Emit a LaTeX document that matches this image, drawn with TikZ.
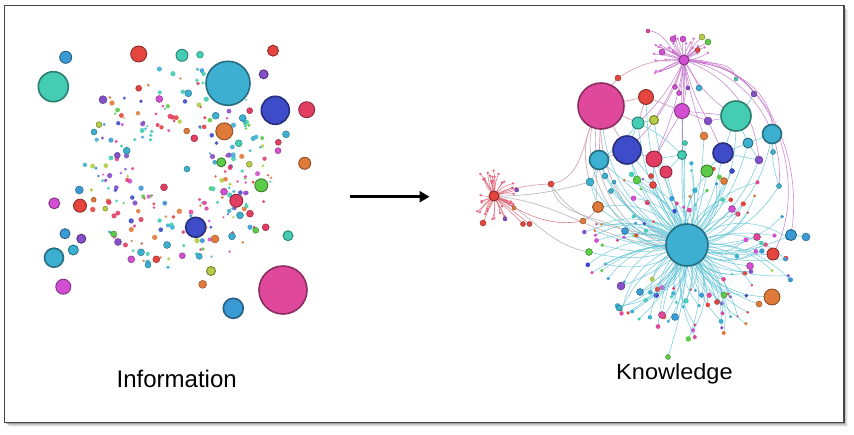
\documentclass[tikz,border=0pt]{standalone}
\usepackage{fontspec}
\setmainfont{Liberation Sans}
\usetikzlibrary{arrows.meta}
\definecolor{aqua}{HTML}{45CDB3}
\definecolor{cyanb}{HTML}{3DB0D2}
\definecolor{sky}{HTML}{3A9AD4}
\definecolor{dblue}{HTML}{3F4CC9}
\definecolor{pnk}{HTML}{E0489B}
\definecolor{cred}{HTML}{E4453F}
\definecolor{crim}{HTML}{E23D62}
\definecolor{orng}{HTML}{E07A3A}
\definecolor{grn}{HTML}{5CCB48}
\definecolor{purp}{HTML}{8450C8}
\definecolor{mag}{HTML}{D24FD2}
\definecolor{ygrn}{HTML}{B5CC45}
\colorlet{c0}{aqua}\colorlet{c1}{cyanb}\colorlet{c2}{sky}\colorlet{c3}{dblue}
\colorlet{c4}{pnk}\colorlet{c5}{cred}\colorlet{c6}{crim}\colorlet{c7}{orng}
\colorlet{c8}{grn}\colorlet{c9}{purp}\colorlet{c10}{mag}\colorlet{c11}{ygrn}
\colorlet{c12}{cyanb}\colorlet{c13}{aqua}
\definecolor{edgec}{HTML}{5EC3D6}
\definecolor{edgep}{HTML}{D49AB0}
\definecolor{edgeg}{HTML}{B9B4B8}
\definecolor{edgem}{HTML}{C57ACB}
\definecolor{edger}{HTML}{E06A78}
\tikzset{
  bub/.style={fill=#1, draw=#1!62!black},
  spoke/.style={edgec, line width=0.55pt, opacity=0.8},
  cedge/.style={edgec, line width=0.6pt, opacity=0.8},
  pedge/.style={edgep, line width=0.7pt, opacity=0.9},
  gedge/.style={edgeg, line width=0.7pt, opacity=0.9},
  medge/.style={edgem, line width=0.6pt, opacity=0.85},
  redge/.style={edger, line width=0.55pt, opacity=0.9},
  arrowst/.style={line width=3pt, -{Triangle[length=10pt,width=11pt]}},
  label/.style={anchor=base west, inner sep=0pt, text=black}
}
\def\leftnodes{i1/53.3/86.7/15/aqua, i2/65.7/57.3/6/sky, i3/138.7/54/8/cred, i4/182/55.3/6/aqua,
 i5/200/54.7/3.5/aqua, i6/228/83.3/22/cyanb, i7/273/50.7/5.5/cred, i8/263.7/74.3/4.5/purp,
 i9/275.3/110.3/14/dblue, i10/306.7/109.7/8/crim, i11/224.3/131.3/8.5/orng, i12/304.7/163.3/6/orng,
 i13/221.3/162.3/4.5/grn, i14/261.3/185.3/6.5/grn, i15/236.3/200.7/6.5/crim, i16/195.7/227.3/10/dblue,
 i17/288/235.7/5/aqua, i18/54.3/203.3/5.5/mag, i19/80/205.7/6.5/cred, i20/79.3/190/4/sky,
 i21/65/233.7/5/sky, i22/81.3/238.7/4.5/purp, i23/73.3/250/5/cyanb, i24/54/257.7/9.5/cyanb,
 i25/63.3/286.7/7.5/mag, i26/211/271/4.5/ygrn, i27/202.7/284.3/4/orng, i28/283/290/24/pnk,
 i29/233.3/308.3/10/sky, i30/215/239/4/orng, i31/265.7/227.3/3.5/crim, i32/255.7/230.3/3/grn,
 i33/250/213.7/3.5/crim, i34/240/215.3/3.5/cyanb, i35/93.7/199.7/2.5/orng,
 i36/159.3/99/3.5/mag, i37/103/99.7/4/purp, i38/186.7/131/3/orng, i39/194.3/138.3/3.5/crim,
 i40/164/187.3/3.5/crim, i41/187/169/3/cyanb, i42/141/252.3/3.5/cyanb, i43/156.3/259.3/3.5/cred,
 i44/131.3/259.3/3.5/mag, i45/148/265/3/cyanb, i46/167/245/3.5/cyanb, i47/182.3/255.7/3/mag,
 i48/199.3/256.3/3/cyanb, i49/188.3/93.3/3.5/cyanb, i50/138.7/88.3/3/cred, i51/286/134.3/3.5/cyanb,
 i52/278.3/142.3/3/crim, i53/278/150.7/3/mag, i54/224/191.7/3.5/mag, i55/215.7/115.7/3.5/cyanb,
 i56/242.7/118/3.5/cyanb, i57/249.7/110.7/3/crim, i58/249.3/164.3/3/ygrn, i59/238.7/143.3/3.5/aqua,
 i60/99/124.7/3/ygrn, i61/94/132/3/cyanb, i62/117.3/155.3/3/purp, i63/118/242/3.5/purp,
 i64/113.7/234/3/grn, i65/105.3/208.7/2.5/ygrn, i66/126.7/150.7/3.5/cyanb, i67/232/236.3/3.5/cyanb}
\def\rightnodes{K1/601/106/23/pnk, K2/646/97/7.5/cred, K3/682/111/7.5/mag, K4/638/123/6/aqua,
 K5/654/120/4.5/ygrn, K6/708/121/4/purp, K7/736/116/15/aqua, K8/772/134/9.5/cyanb,
 K9/704/136/4/orng, K10/748/143/5/cyanb, K11/627/150/14/dblue, K12/654/159/8/crim,
 K13/599/160/9.5/cyanb, K14/682/155/4.5/aqua, K15/723/153/10/dblue, K16/759/160/4/purp,
 K17/666/172/6/crim, K18/707/171/6/grn, K19/637/180/4/grn, K20/653/185/3.5/cred,
 K21/724/181/3.5/orng, K22/590/182/4/cyanb, K23/598/207/5.5/orng, H/687/245/21/cyanb,
 K24/791/235/5.5/sky, K25/806/237/4/sky, K26/773/254/6/cred, K27/772/297/8/orng,
 K28/621/286/4/purp, K29/618/78/3/cred, K30/699/88/3/cyanb, M/684/60/5/mag, R/494/196/5/cred,
 r1/551/184/3/cred, r2/583/221/3/orng, r3/483/223/3/cred, r4/523/224/2.5/cred, r5/529.5/224/2.5/cred,
 r6/514/208/2/orng, r7/516.7/190/2/purp, r8/505/219/2/purp, G/668/357/2.5/grn,
 P1/640/292/3.5/sky, P2/662/315/3.5/pnk, P3/675/317/3.5/sky, P4/619/308/3/cyanb,
 P5/750/266/3.5/mag, P6/757/237/3.5/pnk, P7/732/209/3.5/mag, P8/625/231/3.5/sky,
 P9/589/252/3.5/grn, P10/759/304/3/orng, P11/779/186/2.5/cyanb, P12/724/295/3/grn,
 P13/717/302/2.5/cred, P14/736/79/2/aqua, P15/754/94/3/purp, P16/773/152/2.5/cyanb,
 P17/732/171/2.5/dblue, P18/605/176/3/cyanb, P19/614/182/2/cyanb, P20/611/191/2.5/cyanb,
 P21/685/143/2.5/aqua, P22/651/176/2.5/cred,
 m1/673/39/3/mag, m2/683/39/3/mag, m3/702/37/3/ygrn, m4/708/42/3/grn, m5/662/52/3/mag,
 m6/697.7/50/2.5/cred, m7/648/31/2/pnk, m8/675/87/2.5/mag, m9/679/93/2.5/mag, m10/688/88/2/purp}
\begin{document}
\begin{tikzpicture}[x=1pt,y=-1pt]
\useasboundingbox (0,0) rectangle (854,434);
% frame with shadow
\foreach \o/\op in {4/0.05,3/0.08,2/0.12,1/0.18}
  \fill[black,opacity=\op] (4.5+\o,5.5+\o) rectangle (844+\o,422.5+\o);
\fill[white] (4.5,5.5) rectangle (844,422.5);
\draw[black!72, line width=1.3pt] (4.5,5.5) rectangle (844,422.5);

% ---------------- Information: scattered dots ----------------
\pgfmathsetseed{12}
\foreach \i in {1,...,230}{
  \pgfmathsetmacro{\ang}{rnd*360}
  \pgfmathsetmacro{\rad}{36+rnd*64}
  \pgfmathsetmacro{\px}{178+0.95*\rad*cos(\ang)}
  \pgfmathsetmacro{\py}{168+1.02*\rad*sin(\ang)}
  \pgfmathtruncatemacro{\k}{random(0,13)}
  \pgfmathsetmacro{\s}{1.1+rnd*1.6}
  \fill[fill=c\k, opacity=0.9] (\px,\py) circle[radius=\s pt];
}
\foreach \n/\x/\y/\r/\c in \leftnodes {
  \pgfmathsetmacro{\lw}{\r>9 ? 1.6 : (\r>4 ? 0.9 : 0.4)}
  \filldraw[bub=\c, line width=\lw pt] (\x,\y) circle[radius=\r pt];
}

% ---------------- Knowledge: network ----------------
\foreach \n/\x/\y/\r/\c in \rightnodes { \coordinate (\n) at (\x,\y); }

% long grey / pink arcs
\draw[pedge] (R) to[bend left=10] (r1);
\draw[pedge] (r1) to[out=10,in=235] (K1);
\draw[pedge] (K1) to[bend left=12] (K29);
\draw[pedge] (K29) to[bend left=18] (M);
\draw[pedge] (K1) -- (K2);
\draw[pedge] (K1) -- (K4);
\draw[pedge] (K1) -- (K11);
\draw[pedge] (K1) -- (K13);
\draw[pedge] (K1) to[bend right=25] (K22);
\draw[gedge] (K1) to[out=250,in=185] (H);
\draw[gedge] (K1) to[out=235,in=200] (H);
\draw[pedge] (K1) to[out=265,in=165] (H);
\draw[gedge] (R) to[out=0,in=195] (K22);
\draw[gedge] (R) to[out=-5,in=185] (H);
\draw[redge] (R) to[out=-30,in=190] (r2);
\draw[pedge] (r2) to[bend right=15] (K23);
\draw[gedge] (R) to[out=-25,in=170] (P9);
\draw[gedge] (r1) to[out=-60,in=160] (H);
\draw[gedge] (r1) to[out=-80,in=150] (P8);
\draw[pedge] (K11) -- (K12);
\draw[pedge] (K13) -- (K11);
\draw[pedge] (K2) -- (K3);
\draw[pedge] (K2) -- (K4);
\draw[gedge] (K12) -- (K17);
\draw[gedge] (K13) to[bend right=10] (K23);

% magenta edges from the top hub
\foreach \t/\b in {K3/5, K3/-5, K3/12, K6/-8, K7/-15, K4/10, K11/15, K9/-5, K14/0, K12/8, K5/6, K30/5, m8/0, m9/4, m10/-4}
  \draw[medge] (M) to[bend left=\b] (\t);
\draw[medge] (M) to[out=-5,in=85] (K8);
\draw[medge] (M) to[out=0,in=80] (K24);
\draw[medge] (M) to[out=-10,in=85] (P11);
\draw[medge] (M) to[out=-20,in=95] (K16);
\draw[medge] (M) to[out=5,in=60] (K26);
\draw[medge] (M) to[out=-15,in=100] (P14);
\draw[medge] (M) to[out=-10,in=120] (P15);
\draw[medge] (K3) -- (K6);
\draw[medge] (K3) -- (K7);
\draw[medge] (K3) -- (K14);
\draw[medge] (K3) -- (K12);
\draw[medge] (K6) -- (K7);
\draw[medge] (K6) -- (K15);
\draw[medge] (m7) to[out=0,in=150] (M);

% cyan edges between cluster nodes
\foreach \a/\b/\bd in {K13/K22/10, K11/K4/0, K13/K4/-10, K7/K10/0, K8/K10/0, K15/K10/0,
  K14/K12/0, K22/K23/0, K15/K16/0, K7/K15/0, K4/K5/0, K12/K20/0, K11/K19/0, K8/P16/0,
  K10/K16/0, K15/K18/0, K17/K14/0, K13/P18/0, K4/K14/10, K7/P15/-10, K8/P11/-10}
  \draw[cedge] (\a) to[bend left=\bd] (\b);
% cyan edges from the big hub
\foreach \t/\b in {K11/12, K12/-8, K13/22, K14/4, K15/-10, K17/0, K18/-6, K19/12, K20/5,
  K21/-10, K22/25, K7/-22, K8/-28, K10/-16, K16/-18, K4/16, K3/2, K9/-6, K24/-20,
  K26/-10, K27/-32, G/8, P1/10, P2/-10, P3/6, P4/20, P5/-12, P6/-8, P7/-5, P8/15, P9/18,
  P10/-20, P11/-25, P12/-15, P13/10, P17/-5, P18/20, P19/15, P20/10, P21/3, P22/8,
  K23/15, K28/12, K2/14, K5/6, K1/30, K13/-5, K11/-10}
  \draw[cedge] (H) to[bend left=\b] (\t);
\draw[cedge] (K24) -- (K25);

% starburst spokes of the big hub
\pgfmathsetseed{31}
\foreach \i in {1,...,115}{
  \pgfmathsetmacro{\ang}{rnd*360}
  \pgfmathsetmacro{\rad}{42+rnd*56}
  \pgfmathsetmacro{\px}{687+1.12*\rad*cos(\ang)}
  \pgfmathsetmacro{\py}{250+0.92*\rad*sin(\ang)}
  \pgfmathsetmacro{\sg}{rnd<0.5 ? -1 : 1}
  \pgfmathsetmacro{\bd}{\sg*(12+rnd*26)}
  \pgfmathtruncatemacro{\k}{random(0,13)}
  \pgfmathsetmacro{\s}{1.3+rnd*1.5}
  \coordinate (hs\i) at (\px,\py);
  \draw[spoke] (H) to[bend left=\bd] (hs\i);
  \fill[fill=c\k] (hs\i) circle[radius=\s pt];
}
% spokes of the left red hub
\foreach \i in {1,...,38}{
  \pgfmathsetmacro{\ang}{rnd*360}
  \pgfmathsetmacro{\rad}{13+rnd*13}
  \pgfmathsetmacro{\px}{494+\rad*cos(\ang)}
  \pgfmathsetmacro{\py}{196+\rad*sin(\ang)}
  \pgfmathsetmacro{\bd}{rnd*36-18}
  \coordinate (rs\i) at (\px,\py);
  \draw[redge] (R) to[bend left=\bd] (rs\i);
  \fill[fill=crim!80] (rs\i) circle[radius=1.3pt];
}
\foreach \t in {r3,r4,r5,r6,r7,r8} \draw[redge] (R) -- (\t);
% spokes of the top magenta hub
\foreach \i in {1,...,30}{
  \pgfmathsetmacro{\ang}{150+rnd*240}
  \pgfmathsetmacro{\rad}{10+rnd*22}
  \pgfmathsetmacro{\px}{684+\rad*cos(\ang)}
  \pgfmathsetmacro{\py}{60+\rad*sin(\ang)}
  \pgfmathsetmacro{\bd}{rnd*30-15}
  \coordinate (ms\i) at (\px,\py);
  \draw[medge] (M) to[bend left=\bd] (ms\i);
  \fill[fill=mag!85] (ms\i) circle[radius=1.3pt];
}
\foreach \t in {m1,m2,m3,m4,m5,m6} \draw[medge] (M) to[bend left=8] (\t);

% network nodes
\foreach \n/\x/\y/\r/\c in \rightnodes {
  \pgfmathsetmacro{\lw}{\r>9 ? 1.6 : (\r>4 ? 0.9 : 0.4)}
  \filldraw[bub=\c, line width=\lw pt] (\n) circle[radius=\r pt];
}

% arrow
\coordinate (a1) at (350,196.7);
\coordinate (a2) at (429.5,196.7);
\draw[arrowst] (a1) -- (a2);

% labels
\node[label, font=\fontsize{24}{28}\selectfont] (info) at (116.5,387.3) {Information};
\node[label, font=\fontsize{22}{26}\selectfont, xscale=1.07] (know) at (616,379.3) {Knowledge};
\end{tikzpicture}
\end{document}
